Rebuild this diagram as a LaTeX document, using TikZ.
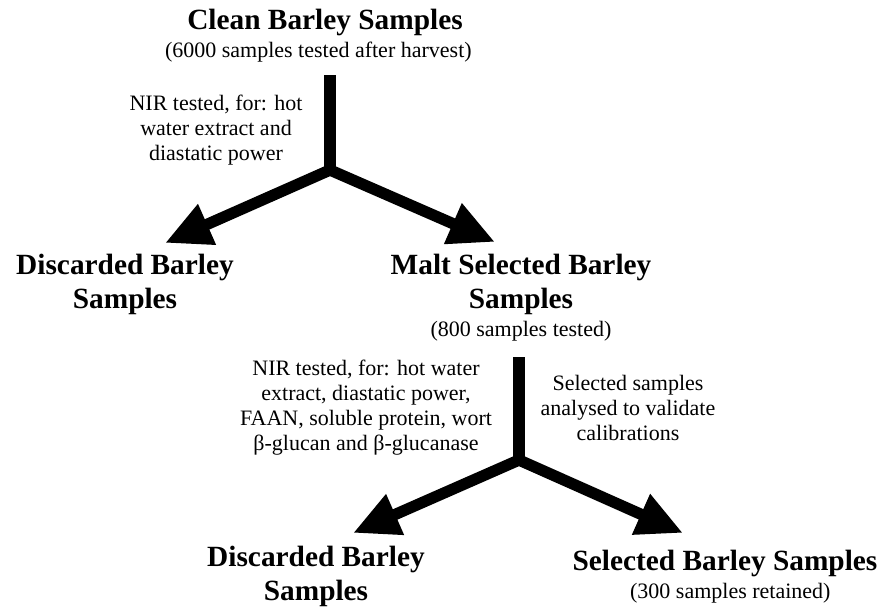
\documentclass[tikz,border=0pt]{standalone}
\usepackage{fontspec}
\setmainfont{Liberation Serif}
\usetikzlibrary{arrows.meta,positioning}

\begin{document}
\begin{tikzpicture}[x=0.75pt,y=-0.75pt,line join=miter]
\tikzstyle{every node}=[align=center,inner sep=0pt,anchor=north,execute at begin node=\strut]
\tikzstyle{head}=[font=\fontsize{22}{25.5}\selectfont\bfseries]
\tikzstyle{note}=[font=\fontsize{16.5}{18.75}\selectfont]
\tikzstyle{stem}=[line width=8.5pt]
\tikzstyle{branch}=[line width=8.5pt,{Triangle[length=34.5pt,width=31pt]}-{Triangle[length=34.5pt,width=31pt]}]

\useasboundingbox (0,0) rectangle (885,607);

\node[head] (clean) at (325,5) {Clean Barley Samples};
\node[note,below=0pt of clean,xshift=-5pt] (cleannote) {(6000 samples tested after harvest)};
\node[note] (nir1) at (216,94.5) {NIR tested, for: hot\\water extract and\\diastatic power};
\node[head] (disc1) at (125,254) {Discarded Barley\\Samples};
\node[head] (malt) at (521,254) {Malt Selected Barley\\Samples};
\node[note,below=0pt of malt] (maltnote) {(800 samples tested)};
\node[note] (nir2) at (366,359.5) {NIR tested, for: hot water\\extract, diastatic power,\\FAAN, soluble protein, wort\\β-glucan and β-glucanase};
\node[note] (valid) at (628,374.5) {Selected samples\\analysed to validate\\calibrations};
\node[head] (disc2) at (316,546) {Discarded Barley\\Samples};
\node[head] (sel) at (725,546) {Selected Barley Samples};
\node[note,below=0pt of sel,xshift=4pt] (selnote) {(300 samples retained)};

% stems and forks
\coordinate (top1) at (330,75);
\coordinate (fork1) at (330,170);
\coordinate (disc1 in) at (165,243);
\coordinate (malt in) at (495,242);
\coordinate (top2) at (519,357);
\coordinate (fork2) at (519,460);
\coordinate (disc2 in) at (353,533);
\coordinate (sel in) at (683,533);

\draw[stem] (top1) -- (fork1);
\draw[branch] (disc1 in) -- (fork1) -- (malt in);
\draw[stem] (top2) -- (fork2);
\draw[branch] (disc2 in) -- (fork2) -- (sel in);
\end{tikzpicture}
\end{document}
